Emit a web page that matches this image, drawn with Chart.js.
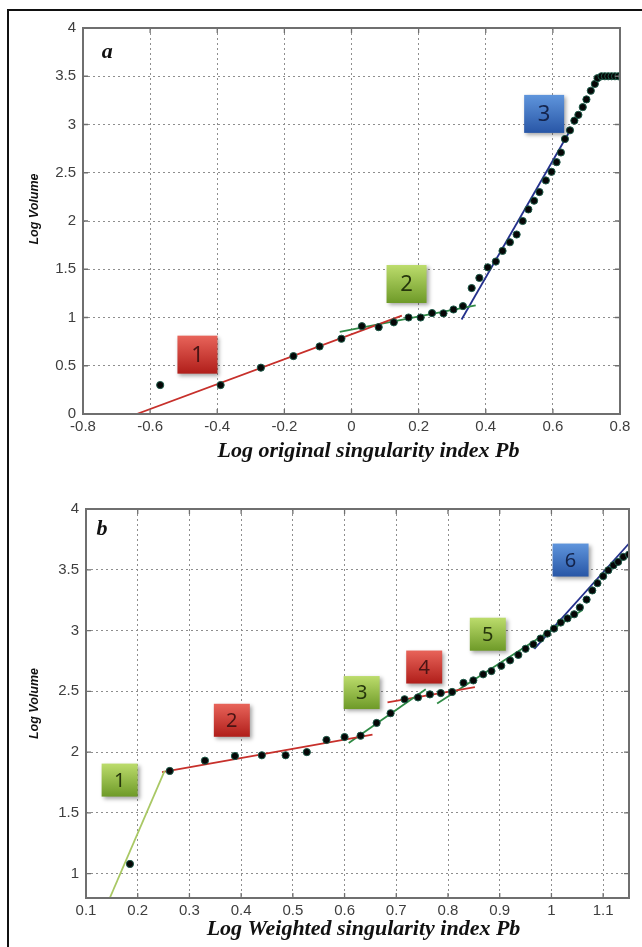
<!DOCTYPE html>
<html>
<head>
<meta charset="utf-8">
<script src="https://cdn.jsdelivr.net/npm/chart.js@4.4.1/dist/chart.umd.min.js"></script>
<style>
  html, body { margin: 0; padding: 0; background: #fff; }
  body { width: 642px; height: 947px; position: relative; overflow: hidden; }
  .frame { position: absolute; left: 7px; top: 9px; width: 700px; height: 1000px;
           border-top: 2px solid #111; border-left: 2px solid #111; }
  canvas { position: absolute; left: 0; }
  #chartA { top: 0; }
  #chartB { top: 480px; }
</style>
</head>
<body>
<div class="frame"></div>
<canvas id="chartA" width="642" height="470"></canvas>
<canvas id="chartB" width="642" height="467"></canvas>
<script>
// panel a: log-log points, original singularity index
const aX = [-0.57, -0.39, -0.27, -0.173, -0.095, -0.03, 0.031, 0.081, 0.126, 0.17, 0.206, 0.24,
  0.274, 0.304, 0.332, 0.358, 0.381, 0.406, 0.43, 0.45, 0.472, 0.492, 0.51, 0.527, 0.544, 0.56,
  0.579, 0.596, 0.611, 0.624, 0.636, 0.651, 0.664, 0.676, 0.689, 0.70, 0.713, 0.725, 0.733,
  0.745, 0.755, 0.765, 0.775, 0.785, 0.795, 0.805];
const aY = [0.30, 0.30, 0.48, 0.60, 0.70, 0.78, 0.91, 0.90, 0.95, 1.00, 1.00, 1.046,
  1.043, 1.083, 1.118, 1.305, 1.41, 1.52, 1.58, 1.69, 1.78, 1.86, 2.00, 2.12, 2.21, 2.30,
  2.42, 2.51, 2.61, 2.71, 2.85, 2.94, 3.04, 3.10, 3.18, 3.26, 3.35, 3.42, 3.48,
  3.5, 3.5, 3.5, 3.5, 3.5, 3.5, 3.5];
// fitted segments [x0, y0, x1, y1]
const aFit1 = [-0.64, 0, 0.15, 1.02];
const aFit2 = [-0.035, 0.85, 0.37, 1.125];
const aFit3 = [0.328, 0.98, 0.65, 2.93];
const aFit4 = [0.735, 3.5, 0.81, 3.5];
const aXTicks = [-0.8, -0.6, -0.4, -0.2, 0, 0.2, 0.4, 0.6, 0.8];
const aYTicks = [0, 0.5, 1, 1.5, 2, 2.5, 3, 3.5, 4];
const aTagText = ['1', '2', '3'];
const aTagX = [-0.459, 0.164, 0.574];
const aTagY = [0.615, 1.347, 3.11];
const aTagTone = ['red', 'green', 'blue'];

// panel b: weighted singularity index
const bX = [0.185, 0.262, 0.33, 0.388, 0.44, 0.486, 0.527, 0.565, 0.60, 0.631, 0.662, 0.689,
  0.716, 0.742, 0.765, 0.786, 0.808, 0.83, 0.849, 0.868, 0.884, 0.903, 0.92, 0.936, 0.95,
  0.965, 0.979, 0.992, 1.005, 1.018, 1.031, 1.044, 1.055, 1.068, 1.079, 1.089, 1.10, 1.11,
  1.12, 1.129, 1.139, 1.15];
const bY = [1.08, 1.845, 1.93, 1.968, 1.974, 1.974, 2.00, 2.10, 2.124, 2.135, 2.24, 2.32,
  2.435, 2.45, 2.475, 2.486, 2.495, 2.57, 2.59, 2.64, 2.667, 2.71, 2.755, 2.80, 2.85,
  2.887, 2.934, 2.975, 3.016, 3.066, 3.10, 3.134, 3.19, 3.255, 3.33, 3.39, 3.447, 3.496,
  3.537, 3.565, 3.606, 3.625];
const bFit1 = [0.146, 0.8, 0.252, 1.845];
const bFit2 = [0.247, 1.836, 0.654, 2.144];
const bFit3 = [0.608, 2.075, 0.757, 2.517];
const bFit4 = [0.683, 2.41, 0.852, 2.535];
const bFit5 = [0.779, 2.40, 1.06, 3.17];
const bFit6 = [0.967, 2.85, 1.15, 3.716];
const bXTicks = [0.1, 0.2, 0.3, 0.4, 0.5, 0.6, 0.7, 0.8, 0.9, 1, 1.1];
const bYTicks = [1, 1.5, 2, 2.5, 3, 3.5, 4];
const bTagText = ['1', '2', '3', '4', '5', '6'];
const bTagX = [0.165, 0.382, 0.633, 0.754, 0.877, 1.037];
const bTagY = [1.77, 2.262, 2.49, 2.70, 2.97, 3.58];
const bTagTone = ['green', 'red', 'green', 'red', 'green', 'blue'];

const RED = '#c7302b', GREEN = '#2f8a45', BLUE = '#24308c', TEAL = '#1e6e5a', LIME = '#a9c865';

const TONES = {
  red:   { top: '#e8645a', bottom: '#b01e1a', text: '#4a1414' },
  green: { top: '#bcdc6c', bottom: '#6e9a28', text: '#26360c' },
  blue:  { top: '#5f95dc', bottom: '#2856a6', text: '#14244c' }
};

function pts(xs, ys) {
  return xs.map((x, i) => ({ x: x, y: ys[i] }));
}

function fit(seg, color) {
  return {
    data: [{ x: seg[0], y: seg[1] }, { x: seg[2], y: seg[3] }],
    showLine: true, borderColor: color, borderWidth: 1.8,
    pointRadius: 0, fill: false
  };
}

function dots(xs, ys) {
  return {
    data: pts(xs, ys), showLine: false,
    pointRadius: 3.6, pointBackgroundColor: '#060606',
    pointBorderColor: '#1d5a48', pointBorderWidth: 1
  };
}

// plot frame, inward tick marks, axis titles, numbered tags and panel letter
const panelDecor = {
  id: 'panelDecor',
  afterDatasetsDraw(chart, args, opts) {
    const { ctx, chartArea: a } = chart;
    const x = chart.scales.x, y = chart.scales.y;
    ctx.save();
    ctx.strokeStyle = '#6f6f6f';
    ctx.lineWidth = 1.3;
    ctx.beginPath();
    x.ticks.forEach(t => {
      const px = x.getPixelForValue(t.value);
      ctx.moveTo(px, a.top); ctx.lineTo(px, a.top + 5);
      ctx.moveTo(px, a.bottom); ctx.lineTo(px, a.bottom - 5);
    });
    y.ticks.forEach(t => {
      const py = y.getPixelForValue(t.value);
      ctx.moveTo(a.left, py); ctx.lineTo(a.left + 5, py);
      ctx.moveTo(a.right, py); ctx.lineTo(a.right - 5, py);
    });
    ctx.stroke();
    ctx.lineWidth = 2;
    ctx.strokeRect(a.left, a.top, a.right - a.left, a.bottom - a.top);

    opts.tags.forEach(tag => {
      const cx = x.getPixelForValue(tag.x), cy = y.getPixelForValue(tag.y);
      const w = opts.tagW, h = opts.tagH;
      const tone = TONES[tag.tone];
      const g = ctx.createLinearGradient(0, cy - h / 2, 0, cy + h / 2);
      g.addColorStop(0, tone.top);
      g.addColorStop(1, tone.bottom);
      ctx.save();
      ctx.shadowColor = 'rgba(0,0,0,0.35)';
      ctx.shadowBlur = 4;
      ctx.shadowOffsetX = 2;
      ctx.shadowOffsetY = 2;
      ctx.fillStyle = g;
      ctx.fillRect(cx - w / 2, cy - h / 2, w, h);
      ctx.restore();
      ctx.fillStyle = tone.text;
      ctx.font = opts.tagFont;
      ctx.textAlign = 'center';
      ctx.textBaseline = 'middle';
      ctx.fillText(tag.text, cx, cy + 1);
    });

    ctx.fillStyle = '#111';
    ctx.textAlign = 'center';
    ctx.textBaseline = 'middle';
    ctx.font = 'italic bold 22px "Liberation Serif"';
    ctx.fillText(opts.letter, x.getPixelForValue(opts.letterX), y.getPixelForValue(opts.letterY));

    // x title under the tick labels
    ctx.font = 'italic bold 22px "Liberation Serif"';
    ctx.fillText(opts.xTitle, (a.left + a.right) / 2 + opts.xTitleShift, a.bottom + opts.xTitleDy);

    // y title, rotated
    ctx.save();
    ctx.translate(opts.yTitleX, (a.top + a.bottom) / 2 + opts.yTitleShift);
    ctx.rotate(-Math.PI / 2);
    ctx.font = 'italic bold 12.5px "Liberation Sans"';
    ctx.fillText('Log Volume', 0, 0);
    ctx.restore();
    ctx.restore();
  }
};

function scales(cfg) {
  const tickFont = { family: 'Liberation Sans', size: 15 };
  return {
    x: {
      type: 'linear', min: cfg.xMin, max: cfg.xMax,
      afterBuildTicks: s => { s.ticks = cfg.xTicks.map(v => ({ value: v })); },
      afterFit: s => { s.height = cfg.xHeight; },
      grid: { color: '#8e8e8e', lineWidth: 1, drawTicks: false },
      border: { display: false, dash: [2, 3] },
      ticks: { color: '#3e3e3e', font: tickFont, padding: 4, maxRotation: 0, autoSkip: false,
               callback: v => String(v) }
    },
    y: {
      type: 'linear', min: cfg.yMin, max: cfg.yMax,
      afterBuildTicks: s => { s.ticks = cfg.yTicks.map(v => ({ value: v })); },
      afterFit: s => { s.width = cfg.yWidth; },
      grid: { color: '#8e8e8e', lineWidth: 1, drawTicks: false },
      border: { display: false, dash: [2, 3] },
      ticks: { color: '#3e3e3e', font: tickFont, padding: 7, autoSkip: false,
               callback: v => String(v) }
    }
  };
}

function tagList(text, xs, ys, tones) {
  return text.map((t, i) => ({ text: t, x: xs[i], y: ys[i], tone: tones[i] }));
}

new Chart(document.getElementById('chartA'), {
  type: 'scatter',
  data: {
    datasets: [
      dots(aX, aY),
      fit(aFit1, RED), fit(aFit2, GREEN), fit(aFit3, BLUE), fit(aFit4, TEAL)
    ]
  },
  options: {
    responsive: false, animation: false,
    layout: { padding: { top: 28, right: 22, left: 0, bottom: 0 } },
    plugins: {
      legend: { display: false }, tooltip: { enabled: false },
      panelDecor: {
        tags: tagList(aTagText, aTagX, aTagY, aTagTone),
        tagW: 40, tagH: 38, tagFont: '22px "Noto Sans"',
        letter: 'a', letterX: -0.728, letterY: 3.75,
        xTitle: 'Log original singularity index Pb', xTitleShift: 17, xTitleDy: 37,
        yTitleX: 35, yTitleShift: -12
      }
    },
    scales: scales({
      xMin: -0.8, xMax: 0.8, yMin: 0, yMax: 4, xTicks: aXTicks, yTicks: aYTicks,
      xHeight: 56, yWidth: 83
    })
  },
  plugins: [panelDecor]
});

new Chart(document.getElementById('chartB'), {
  type: 'scatter',
  data: {
    datasets: [
      dots(bX, bY),
      fit(bFit1, LIME), fit(bFit2, RED), fit(bFit3, GREEN),
      fit(bFit4, RED), fit(bFit5, GREEN), fit(bFit6, BLUE)
    ]
  },
  options: {
    responsive: false, animation: false,
    layout: { padding: { top: 29, right: 13, left: 0, bottom: 0 } },
    plugins: {
      legend: { display: false }, tooltip: { enabled: false },
      panelDecor: {
        tags: tagList(bTagText, bTagX, bTagY, bTagTone),
        tagW: 36, tagH: 33, tagFont: '20px "Noto Sans"',
        letter: 'b', letterX: 0.131, letterY: 3.83,
        xTitle: 'Log Weighted singularity index Pb', xTitleShift: 6, xTitleDy: 31,
        yTitleX: 35, yTitleShift: 0
      }
    },
    scales: scales({
      xMin: 0.1, xMax: 1.15, yMin: 0.8, yMax: 4, xTicks: bXTicks, yTicks: bYTicks,
      xHeight: 49, yWidth: 86
    })
  },
  plugins: [panelDecor]
});
</script>
</body>
</html>
